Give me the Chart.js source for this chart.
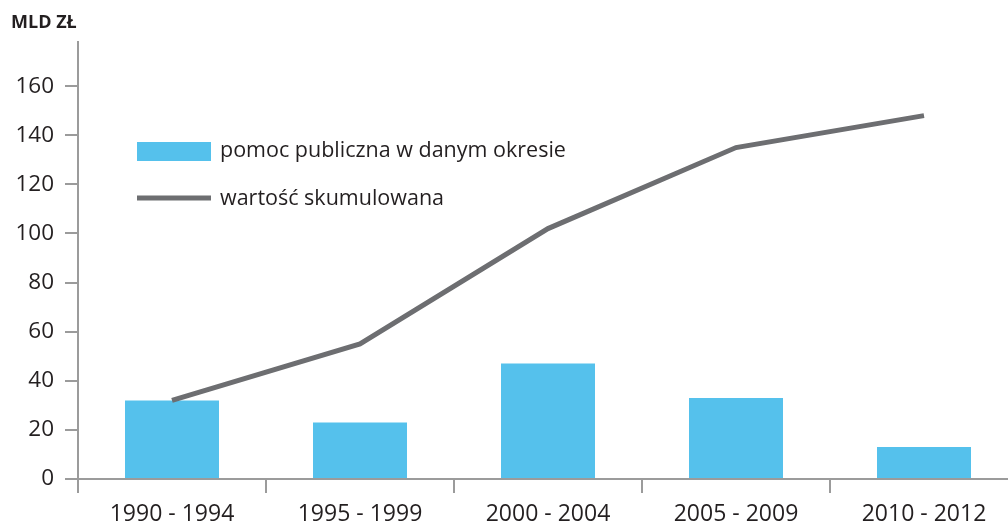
<!DOCTYPE html>
<html>
<head>
<meta charset="utf-8">
<script src="https://cdn.jsdelivr.net/npm/chart.js@4"></script>
<style>
    html, body { margin: 0; padding: 0; background: #ffffff; overflow: hidden; }
    #wrap { width: 1008px; height: 525px; overflow: hidden; }
</style>
</head>
<body>
<div id="wrap"><canvas id="chart" width="1018" height="525"></canvas></div>
<script>
// Pomoc publiczna
const periods = ["1990 - 1994", "1995 - 1999", "2000 - 2004", "2005 - 2009", "2010 - 2012"];
const periodAid = [32, 23, 47, 33, 13];
const cumulative = [32, 55, 102, 135, 148];
const seriesNames = ["pomoc publiczna w danym okresie", "wartość skumulowana"];
const unitLabel = "MLD ZŁ";

const textColor = "#231f20";
const axisColor = "#9b9b9b";
const barColor = "#55c1ec";
const lineColor = "#6d6e71";
const fontFamily = "'Open Sans', sans-serif";

// draws the unit label and the legend box inside the plot
const decorations = {
    id: "decorations",
    afterDraw(chart) {
        const ctx = chart.ctx;
        ctx.save();
        ctx.fillStyle = textColor;
        ctx.font = "bold 18px " + fontFamily;
        ctx.textAlign = "left";
        ctx.textBaseline = "middle";
        ctx.fillText(unitLabel, 11, 23);

        ctx.font = "21.5px " + fontFamily;
        ctx.fillStyle = barColor;
        ctx.fillRect(137, 142, 74, 19);
        ctx.fillStyle = textColor;
        ctx.fillText(seriesNames[0], 220, 151);

        ctx.strokeStyle = lineColor;
        ctx.lineWidth = 5;
        ctx.beginPath();
        ctx.moveTo(137, 198);
        ctx.lineTo(211, 198);
        ctx.stroke();
        ctx.fillText(seriesNames[1], 220, 199);
        ctx.restore();
    }
};

new Chart(document.getElementById("chart"), {
    type: "bar",
    data: {
        labels: periods,
        datasets: [{
            type: "line",
            label: seriesNames[1],
            data: cumulative,
            borderColor: lineColor,
            borderWidth: 5,
            pointRadius: 0,
            tension: 0,
            order: 0
        }, {
            type: "bar",
            label: seriesNames[0],
            data: periodAid,
            backgroundColor: barColor,
            barPercentage: 0.5,
            categoryPercentage: 1,
            order: 1
        }]
    },
    options: {
        responsive: false,
        animation: false,
        layout: { padding: { top: 42, left: 0, right: 0, bottom: 0 } },
        plugins: {
            legend: { display: false },
            tooltip: { enabled: false }
        },
        scales: {
            x: {
                offset: true,
                grid: {
                    offset: true,
                    drawOnChartArea: false,
                    tickLength: 14,
                    color: axisColor,
                    lineWidth: 2
                },
                border: { color: axisColor, width: 2 },
                ticks: {
                    color: textColor,
                    font: { family: fontFamily, size: 23 },
                    padding: 8,
                    maxRotation: 0
                },
                afterFit(scale) { scale.height = 46; }
            },
            y: {
                min: 0,
                max: 178,
                grid: {
                    drawOnChartArea: false,
                    tickLength: 13,
                    color: axisColor,
                    lineWidth: 2
                },
                border: { color: axisColor, width: 2 },
                ticks: {
                    stepSize: 20,
                    includeBounds: false,
                    color: textColor,
                    font: { family: fontFamily, size: 22.5 },
                    padding: 11
                },
                afterFit(scale) { scale.width = 78; }
            }
        }
    },
    plugins: [decorations]
});
</script>
</body>
</html>
